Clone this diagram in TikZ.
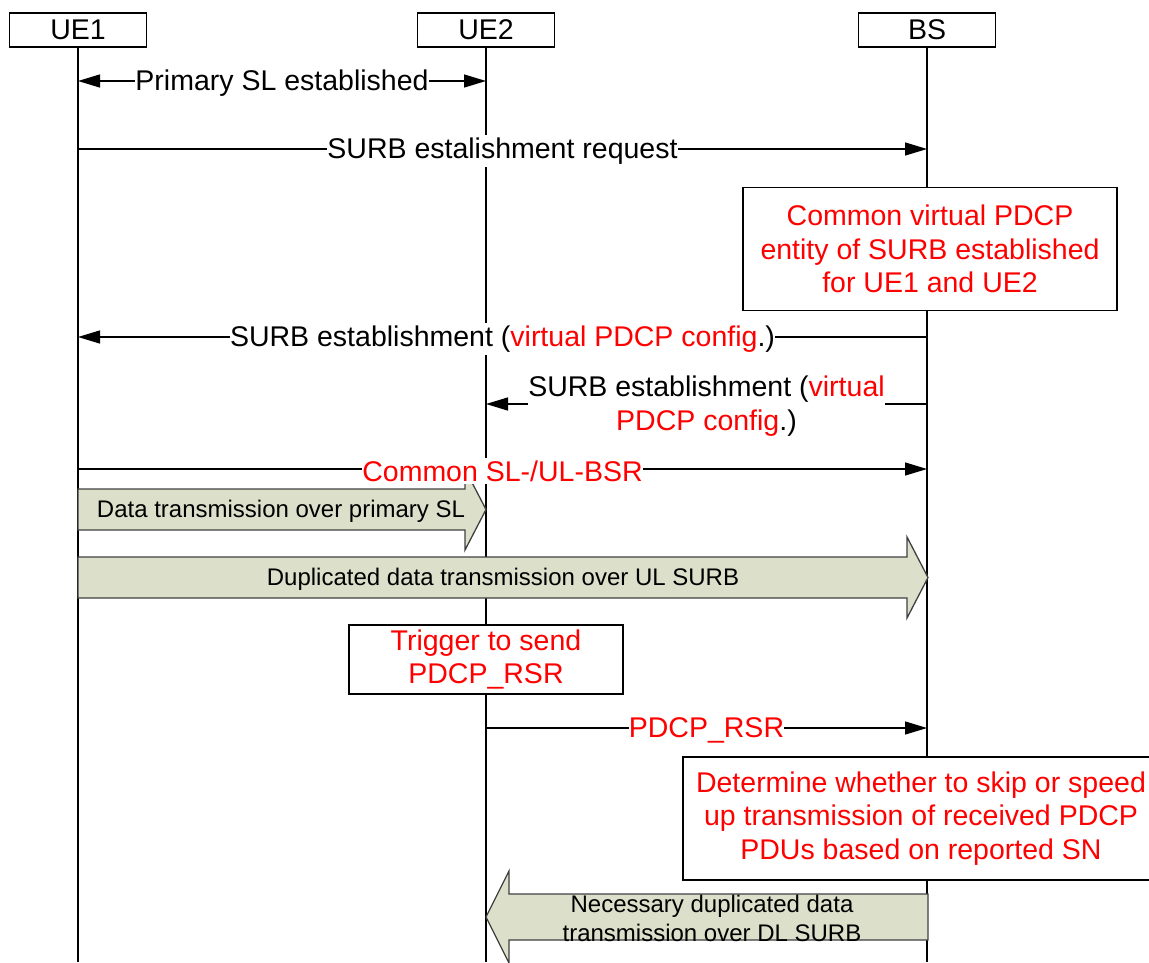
\documentclass[tikz,border=0pt]{standalone}
\usepackage{fontspec}
\setmainfont{Liberation Sans}
\usetikzlibrary{positioning, arrows.meta}
\definecolor{blockfill}{RGB}{220,224,202}
\newcommand{\mainsize}{\fontsize{28.5}{33.5}\selectfont}
\newcommand{\smallsize}{\fontsize{24}{29}\selectfont}
\tikzset{
  entity/.style={rectangle, draw, fill=white, line width=1.3pt, minimum width=137pt, minimum height=34pt, inner sep=0pt, font=\mainsize},
  note/.style={rectangle, draw, fill=white, line width=1.3pt, align=center, text=red, inner sep=0pt, font=\mainsize},
  lifeline/.style={line width=1.3pt},
  msg/.style={-{Triangle[length=22pt, width=13pt]}, line width=1.3pt},
  lbl/.style={fill=white, inner xsep=0pt, inner ysep=3pt, yshift=-2pt, align=center, font=\mainsize},
  bigarrow/.style={draw=black!75, fill=blockfill, line width=1.3pt, line join=miter},
  bigtext/.style={align=center, inner sep=0pt, font=\smallsize},
}

\begin{document}
\begin{tikzpicture}[x=1pt, y=-1pt]
  \useasboundingbox (0,0) rectangle (1149,962);
  \clip (0,0) rectangle (1149,962);

  % Entities
  \node[entity] (ue1) at (78,30) {UE1};
  \node[entity] (ue2) at (486,30) {UE2};
  \node[entity] (bs) at (927,30) {BS};

  % Lifelines
  \coordinate (bottom) at (0,962);
  \draw[lifeline] (ue1) -- (ue1 |- bottom);
  \draw[lifeline] (ue2) -- (ue2 |- bottom);
  \draw[lifeline] (bs) -- (bs |- bottom);

  % Message rows
  \coordinate (m1) at (0,81);
  \coordinate (m2) at (0,149);
  \coordinate (m3) at (0,337);
  \coordinate (m4) at (0,404);
  \coordinate (m5) at (0,469);
  \coordinate (m6) at (0,728);

  % Arrows
  \draw[msg, {Triangle[length=22pt, width=13pt]}-{Triangle[length=22pt, width=13pt]}] (ue1 |- m1) -- node[lbl] {Primary SL established} (ue2 |- m1);
  \draw[msg] (ue1 |- m2) -- node[lbl] {SURB estalishment request} (bs |- m2);

  \node[note, minimum width=374pt, minimum height=123pt] (pdcpent) at (930,249) {Common virtual PDCP\\entity of SURB established\\for UE1 and UE2};

  \draw[msg] (bs |- m3) -- node[lbl] {SURB establishment (\textcolor{red}{virtual PDCP config}.)} (ue1 |- m3);
  \draw[msg] (bs |- m4) -- node[lbl] {SURB establishment (\textcolor{red}{virtual}\\\textcolor{red}{PDCP config}.)} (ue2 |- m4);

  % Data over primary SL
  \draw[bigarrow] (78,489) -- (465,489) -- (465,469) -- (486,509.5) -- (465,550) -- (465,530) -- (78,530) -- cycle;
  \node[bigtext] (slData) at (281,511) {Data transmission over primary SL};

  \draw[msg] (ue1 |- m5) -- node[lbl, text=red] {Common SL-/UL-BSR} (bs |- m5);

  % Duplicated data over UL SURB
  \draw[bigarrow] (78,557) -- (907,557) -- (907,537) -- (928,577.5) -- (907,618) -- (907,598) -- (78,598) -- cycle;
  \node[bigtext] (ulData) at (503,579) {Duplicated data transmission over UL SURB};

  \node[note, minimum width=274pt, minimum height=69pt] (trigger) at (486,659.5) {Trigger to send\\PDCP\_RSR};

  \draw[msg] (ue2 |- m6) -- node[lbl, text=red] {PDCP\_RSR} (bs |- m6);

  \node[note, minimum width=476pt, minimum height=123pt] (decide) at (921,818.5) {Determine whether to skip or speed\\up transmission of received PDCP\\PDUs based on reported SN};

  % Necessary duplicated data over DL SURB
  \draw[bigarrow] (928,894) -- (509,894) -- (509,871) -- (486,917) -- (509,963) -- (509,940) -- (928,940) -- cycle;
  \node[bigtext] (dlData) at (712,918) {Necessary duplicated data\\transmission over DL SURB};

\end{tikzpicture}
\end{document}
